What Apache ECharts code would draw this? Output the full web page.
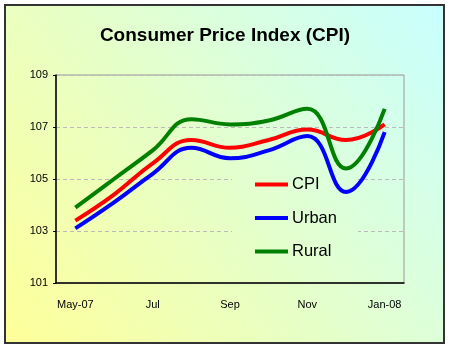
<!DOCTYPE html>
<html lang="en">
<head>
    <meta charset="UTF-8">
    <script src="https://cdn.jsdelivr.net/npm/echarts@6/dist/echarts.min.js"></script>
    <title>CPI</title>
    <style>
        html, body { margin: 0; padding: 0; background: #fff; }
        #container { width: 450px; height: 350px; }
    </style>
</head>
<body>
    <div id="container"></div>
<script type="text/javascript">
    var months = ['May-07', 'Jun', 'Jul', 'Aug', 'Sep', 'Oct', 'Nov', 'Dec', 'Jan-08'];
    var cpi = [103.4, 104.4, 105.6, 106.5, 106.2, 106.5, 106.9, 106.5, 107.1];
    var urban = [103.1, 104.1, 105.2, 106.2, 105.8, 106.1, 106.65, 104.5, 106.8];
    var rural = [103.9, 105.0, 106.1, 107.3, 107.1, 107.25, 107.7, 105.4, 107.7];

    var font = 'Arial, "Liberation Sans", sans-serif';

    // same diagonal gradient for the chart area and the legend box
    function bgGradient() {
        return new echarts.graphic.LinearGradient(5, 343, 444, 5, [
            { offset: 0, color: '#FFFF99' },
            { offset: 0.5, color: '#E4FFCC' },
            { offset: 1, color: '#C8FFFF' }
        ], true);
    }

    var myChart = echarts.init(document.getElementById('container'), null, { renderer: 'canvas' });

    function line(name, data, color) {
        return {
            name: name,
            type: 'line',
            data: data,
            smooth: 0.45,
            showSymbol: false,
            symbol: 'none',
            lineStyle: { color: color, width: 4 },
            itemStyle: { color: color },
            z: 3
        };
    }

    myChart.setOption({
        animation: false,
        title: {
            text: 'Consumer Price Index (CPI)',
            left: 'center',
            top: 21,
            textStyle: { fontFamily: font, fontSize: 19, fontWeight: 'bold', color: '#000' }
        },
        graphic: [
            {
                type: 'rect',
                z: -10,
                shape: { x: 5, y: 5, width: 439, height: 338 },
                style: { fill: bgGradient(), stroke: '#333', lineWidth: 2 }
            },
            {
                // legend box hides the grid lines behind it
                type: 'rect',
                z: 1,
                shape: { x: 232, y: 170, width: 126, height: 92 },
                style: { fill: bgGradient() }
            }
        ],
        legend: {
            orient: 'vertical',
            left: 250,
            top: 171,
            icon: 'rect',
            itemWidth: 33,
            itemHeight: 4,
            itemGap: 16.5,
            textStyle: { fontFamily: font, fontSize: 16.5, color: '#000', padding: [0, 0, 0, -1] }
        },
        grid: {
            left: 56,
            right: 46,
            top: 75,
            bottom: 67,
            show: true,
            borderColor: '#999',
            borderWidth: 1,
            backgroundColor: 'transparent'
        },
        xAxis: {
            type: 'category',
            data: months,
            boundaryGap: true,
            axisLine: { lineStyle: { color: '#000', width: 1.5 } },
            axisTick: { inside: true, length: 4, lineStyle: { color: '#000' } },
            axisLabel: {
                interval: 1,
                margin: 16,
                fontFamily: font,
                fontSize: 11,
                color: '#000'
            }
        },
        yAxis: {
            type: 'value',
            min: 101,
            max: 109,
            interval: 2,
            axisLine: { show: true, lineStyle: { color: '#000', width: 1.5 } },
            axisTick: { show: true, length: 3, lineStyle: { color: '#000' } },
            axisLabel: { margin: 8, fontFamily: font, fontSize: 11, color: '#000' },
            splitLine: { lineStyle: { color: '#BBBBBB', type: [4, 3], width: 1 } }
        },
        series: [
            line('CPI', cpi, '#FF0000'),
            line('Urban', urban, '#0000FF'),
            line('Rural', rural, '#008000')
        ]
    });

    window.addEventListener('resize', myChart.resize);
</script>
</body>
</html>
